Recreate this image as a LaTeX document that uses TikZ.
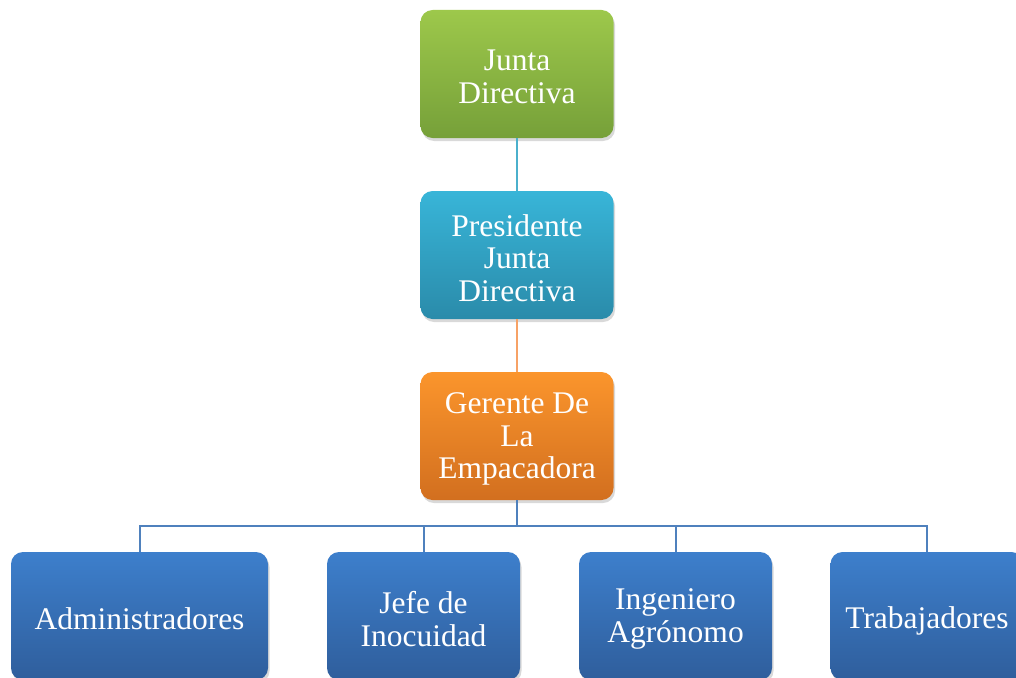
\documentclass[tikz,border=0pt]{standalone}
\usepackage{fontspec}
\setmainfont{Liberation Serif}
\usetikzlibrary{shadows}
\definecolor{gtop}{HTML}{9DC84B}
\definecolor{gbot}{HTML}{76A039}
\definecolor{ttop}{HTML}{38B5D8}
\definecolor{tbot}{HTML}{2A8BAA}
\definecolor{otop}{HTML}{FB952C}
\definecolor{obot}{HTML}{D26F1F}
\definecolor{btop}{HTML}{3D7FCC}
\definecolor{bbot}{HTML}{2F5E9C}
\definecolor{lteal}{HTML}{4BB0CC}
\definecolor{lorange}{HTML}{F7A266}
\definecolor{lblue}{HTML}{4F81BD}
\newcommand{\orgtop}{\rule{0pt}{31pt}}
\newcommand{\orgbot}{\rule[-5pt]{0pt}{5pt}}
\tikzset{
  orgbox/.style={rectangle, rounded corners=12pt, minimum height=128pt, inner sep=2pt,
    align=center, text=white, font=\fontsize{31.5}{32.6}\selectfont,
    execute at begin node=\orgtop, execute at end node=\orgbot,
    drop shadow={opacity=0.3, shadow xshift=1.5pt, shadow yshift=-3pt}},
  emptybox/.style={rectangle, rounded corners=12pt, minimum height=128pt, inner sep=0pt,
    drop shadow={opacity=0.3, shadow xshift=1.5pt, shadow yshift=-3pt}},
  orglabel/.style={align=center, text=white, inner sep=0pt, yshift=-3pt,
    font=\fontsize{31.5}{32.6}\selectfont},
  greenbox/.style={emptybox, top color=gtop, bottom color=gbot, minimum width=193pt},
  tealbox/.style={emptybox, top color=ttop, bottom color=tbot, minimum width=193pt},
  orangebox/.style={emptybox, top color=otop, bottom color=obot, minimum width=193pt},
  bluebox/.style={orgbox, top color=btop, bottom color=bbot},
  blueempty/.style={emptybox, top color=btop, bottom color=bbot},
  conn/.style={line width=2pt}
}
\begin{document}
\begin{tikzpicture}[x=1pt,y=-1pt]
\useasboundingbox (0,0) rectangle (1016,677);
\clip (0,0) rectangle (1016,677);
\node[greenbox, label={[orglabel]center:{Junta\\Directiva}}] (junta) at (517,74) {};
\node[tealbox, label={[orglabel]center:{Presidente\\Junta\\Directiva}}] (pres) at (517,255) {};
\node[orangebox, label={[orglabel]center:{Gerente De\\La\\Empacadora}}] (ger) at (517,436) {};
\node[bluebox, minimum width=257pt] (adm) at (139.5,616) {Administradores};
\node[blueempty, minimum width=193pt, label={[orglabel]center:{Jefe de\\Inocuidad}}] (jefe) at (423.5,616) {};
\node[blueempty, minimum width=193pt, label={[orglabel]center:{Ingeniero\\Agrónomo}}] (ing) at (675.5,616) {};
\node[bluebox, minimum width=193pt] (trab) at (927,616) {Trabajadores};
\coordinate (bus) at (517,526);
\draw[conn, draw=lteal] (junta.south) -- (pres.north);
\draw[conn, draw=lorange] (pres.south) -- (ger.north);
\draw[line width=2.4pt, draw=lblue] (ger.south) -- (bus);
\draw[conn, draw=lblue] (bus) -| (adm.north);
\draw[conn, draw=lblue] (bus) -| (jefe.north);
\draw[conn, draw=lblue] (bus) -| (ing.north);
\draw[conn, draw=lblue] (bus) -| (trab.north);
\end{tikzpicture}
\end{document}
